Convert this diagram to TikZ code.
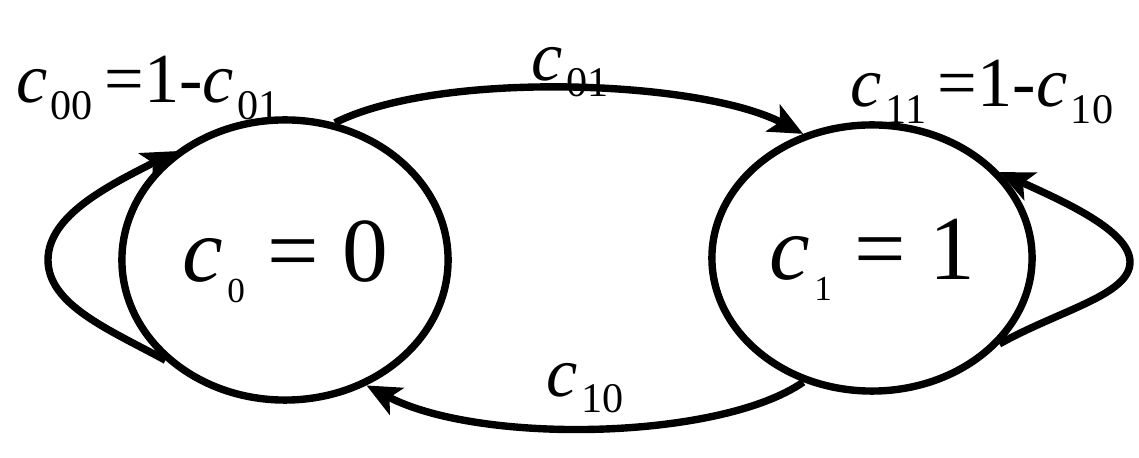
\documentclass[tikz,border=0pt]{standalone}
\usepackage{fontspec}
\setmainfont{Liberation Serif}
\newfontfamily\tms{Liberation Serif}
\usetikzlibrary{shapes.geometric,arrows.meta}
\newcommand{\cs}[2]{\textit{c}\kern0.05em\raisebox{-0.5ex}{\fontsize{#2}{#2}\selectfont #1}}
\tikzset{
  state/.style={draw,ellipse,line width=2.1pt,inner sep=0pt},
  edge/.style={line width=2.1pt,-{Stealth[length=0.34cm,width=0.3cm,inset=0.08cm]}},
  lab/.style={inner sep=0pt,font=\tms\fontsize{20}{22}\selectfont}
}
\begin{document}
\begin{tikzpicture}[x=0.01cm,y=-0.01cm]
\useasboundingbox (0,0) rectangle (1139,458);
\node[state,minimum width=3.26cm,minimum height=2.8cm] (l) at (285,260) {};
\node[state,minimum width=3.2cm,minimum height=2.66cm] (r) at (872,258) {};
\node[inner sep=0pt,font=\tms\fontsize{26}{28}\selectfont] (lt) at (285,262) {\cs{0}{10}\ = 0};
\node[inner sep=0pt,font=\tms\fontsize{26}{28}\selectfont] (rt) at (872,260) {\cs{1}{10}\ = 1};
\draw[edge] (l.70) .. controls (440,70) and (700,80) .. (r.119);
\draw[edge] (r.241) .. controls (720,440) and (480,445) .. (l.303);
\draw[edge] (l.220) .. controls (110,330) and (48,305) .. (48,260) .. controls (48,215) and (110,185) .. (l.135);
\draw[edge] (r.326) .. controls (1060,310) and (1130,295) .. (1130,262) .. controls (1130,230) and (1060,200) .. (r.34);
\node[lab] (t1) at (148,88) {\cs{00}{12}\,=1-\cs{01}{12}};
\node[lab] (t2) at (570,72) {\cs{01}{12}};
\node[lab] (t3) at (982,92) {\cs{11}{12}\,=1-\cs{10}{12}};
\node[lab] (t4) at (585,388) {\cs{10}{12}};
\end{tikzpicture}
\end{document}
